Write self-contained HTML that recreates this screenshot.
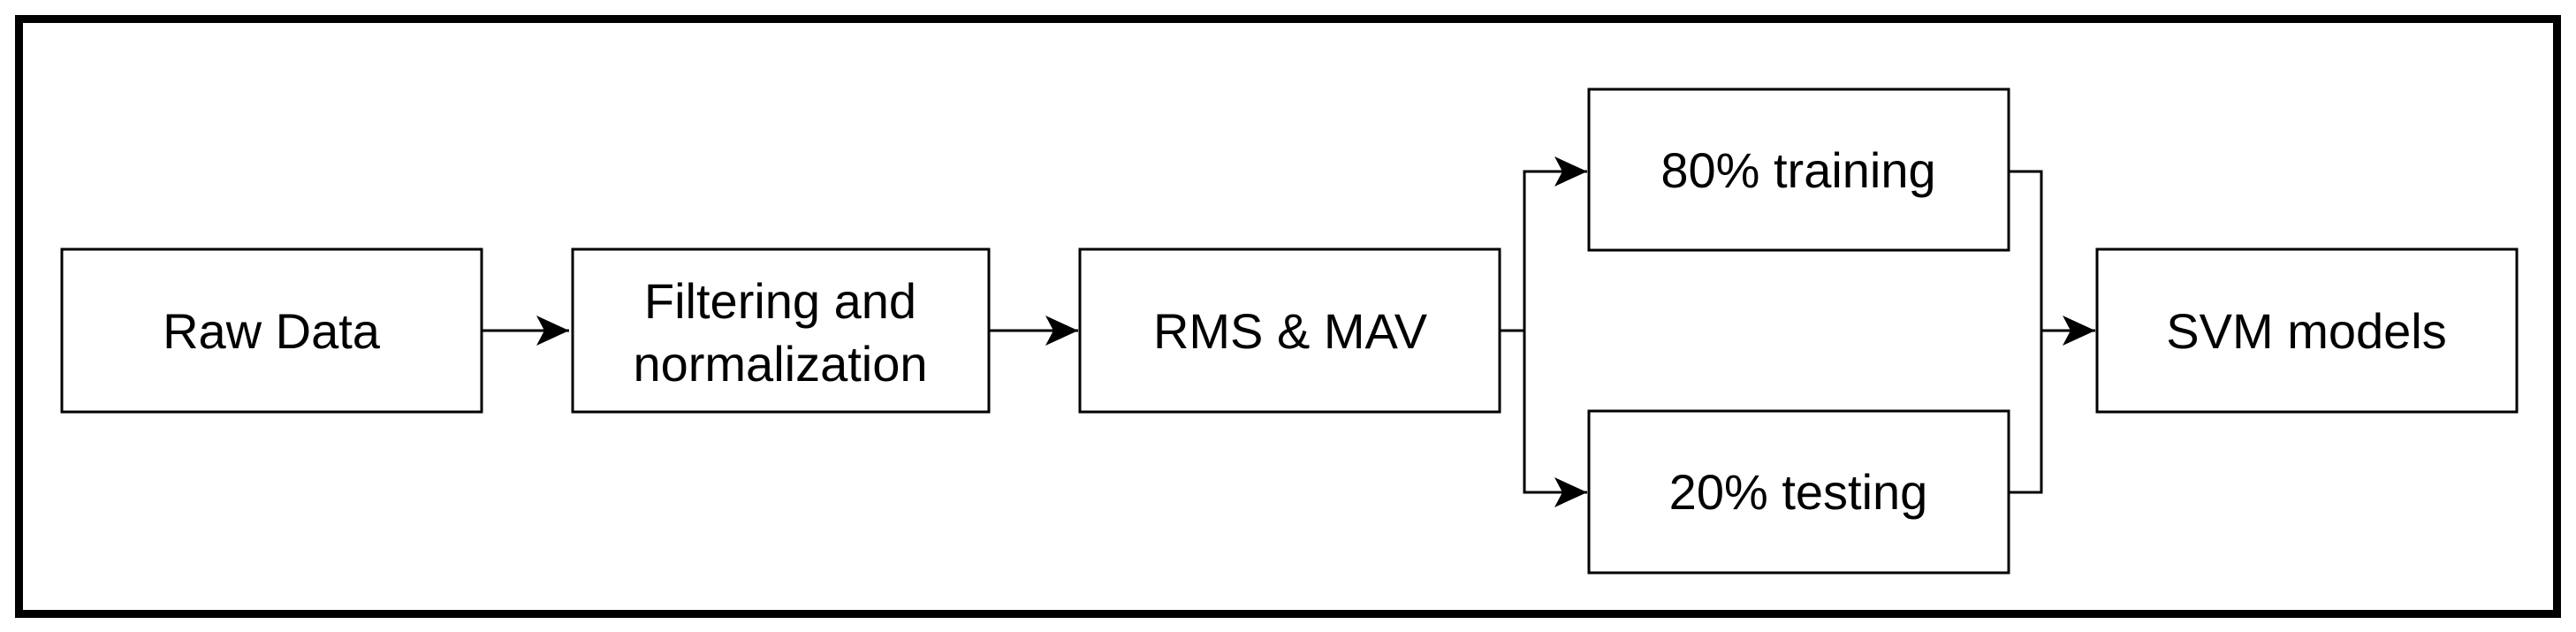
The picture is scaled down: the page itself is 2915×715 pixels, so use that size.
<!DOCTYPE html>
<html><head><meta charset="utf-8"><style>
html,body{margin:0;padding:0;background:#fff;}
svg{display:block;}
text{font-family:"Liberation Sans",Arial,sans-serif;font-size:56px;fill:#000;text-anchor:middle;}
</style></head><body>
<svg width="2915" height="715" viewBox="0 0 2915 715" xmlns="http://www.w3.org/2000/svg">
<defs>
<marker id="a" markerWidth="40" markerHeight="34" refX="37" refY="17" orient="auto" markerUnits="userSpaceOnUse">
<path d="M0,0 L37,17 L0,34 L9,17 Z" fill="#000"/>
</marker>
</defs>
<rect x="21.5" y="21.5" width="2872" height="673" fill="#fff" stroke="#000" stroke-width="9"/>
<g fill="#fff" stroke="#000" stroke-width="3">
<rect x="70" y="282" width="475" height="184"/>
<rect x="648" y="282" width="471" height="184"/>
<rect x="1222" y="282" width="475" height="184"/>
<rect x="1798" y="101" width="475" height="182"/>
<rect x="1798" y="465" width="475" height="183"/>
<rect x="2373" y="282" width="475" height="184"/>
</g>
<g fill="none" stroke="#000" stroke-width="3">
<path d="M545,374 H644" marker-end="url(#a)"/>
<path d="M1119,374 H1220" marker-end="url(#a)"/>
<path d="M1697,374 H1725 V194 H1796" marker-end="url(#a)"/>
<path d="M1725,374 V557 H1796" marker-end="url(#a)"/>
<path d="M2273,194 H2310 V557 H2273"/>
<path d="M2310,374 H2371" marker-end="url(#a)"/>
</g>
<text x="307" y="394">Raw Data</text>
<text x="883" y="360">Filtering and</text>
<text x="883" y="431">normalization</text>
<text x="1460" y="394">RMS &amp; MAV</text>
<text x="2035" y="212">80% training</text>
<text x="2035" y="576">20% testing</text>
<text x="2610" y="394">SVM models</text>
</svg>
</body></html>
